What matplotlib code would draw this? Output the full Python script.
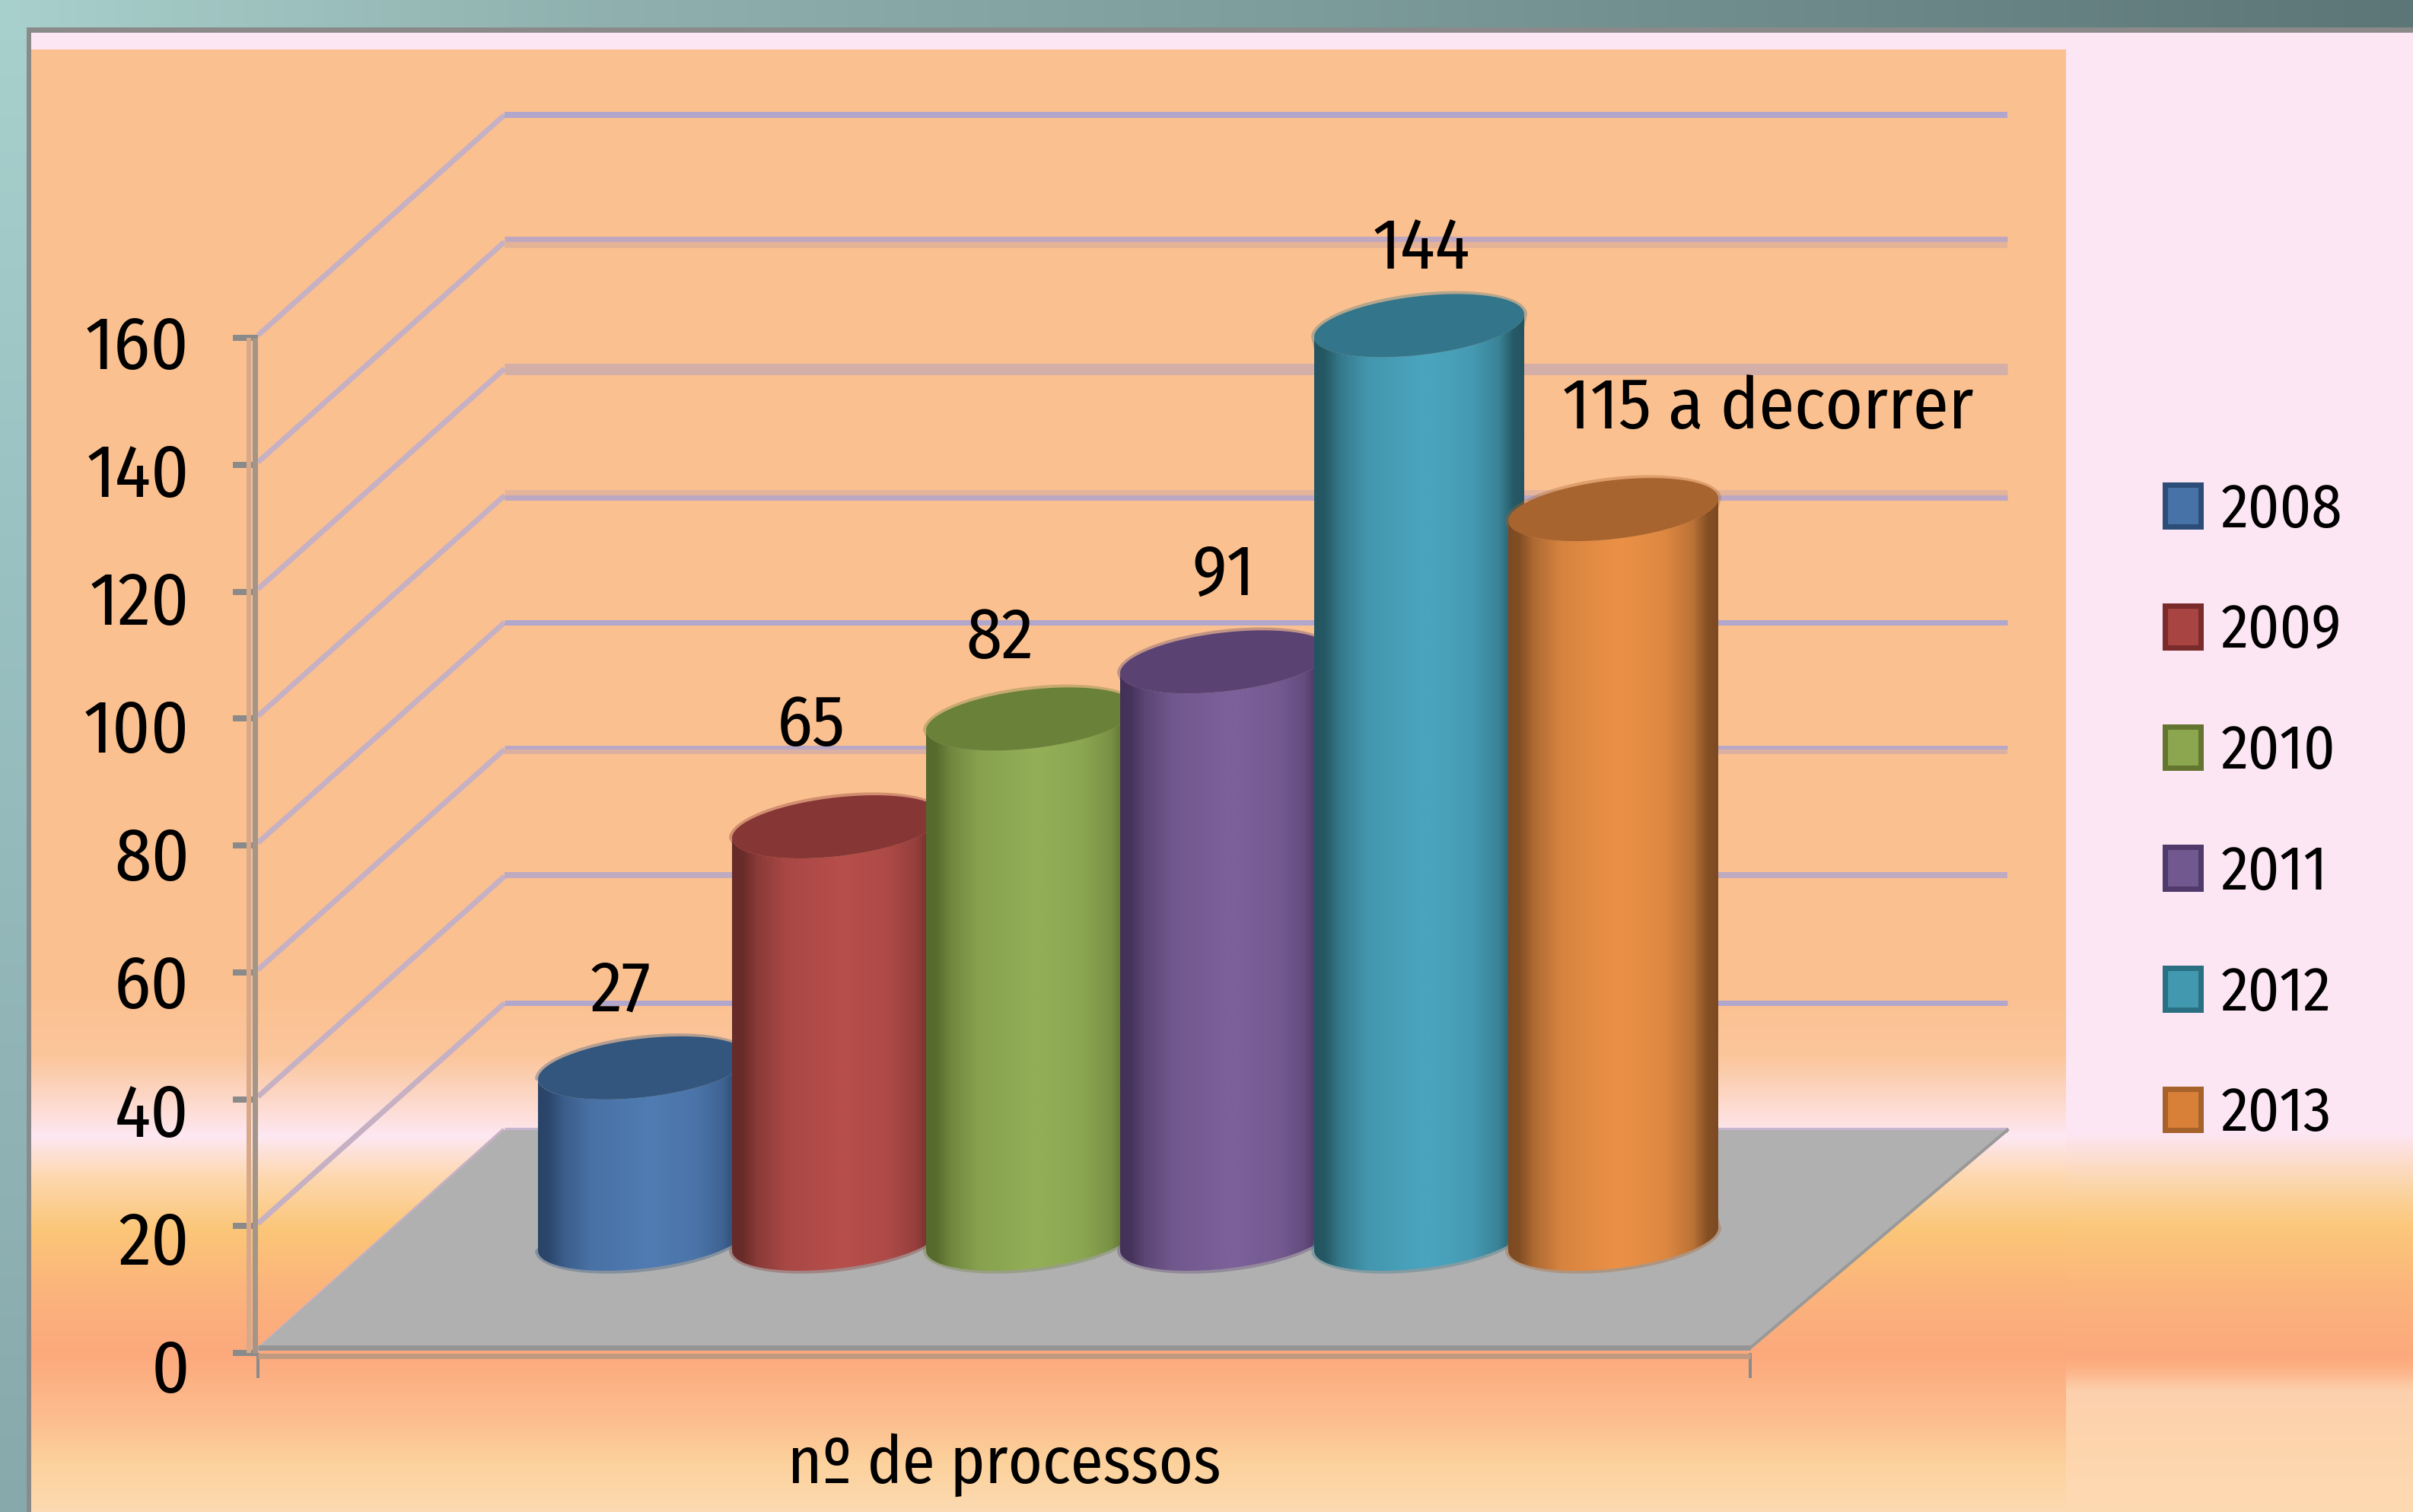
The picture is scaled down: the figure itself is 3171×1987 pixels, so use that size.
import numpy as np
import matplotlib
matplotlib.use('Agg')
import matplotlib.pyplot as plt
from matplotlib.colors import LinearSegmentedColormap, to_rgb
from matplotlib.patches import Patch, PathPatch, Polygon
from matplotlib.path import Path
from matplotlib.transforms import ScaledTranslation

plt.rcParams['font.family'] = ['Fira Sans Condensed', 'Lato', 'DejaVu Sans']

# data
years = ['2008', '2009', '2010', '2011', '2012', '2013']
values = [27, 65, 82, 91, 144, 115]
value_labels = ['27', '65', '82', '91', '144', '115 a decorrer']
y_ticks = [0, 20, 40, 60, 80, 100, 120, 140, 160]
axis_title = 'nº de processos'

# colours: light body, dark body, top face
light = ['#4f7bb2', '#b64e4b', '#92ae56', '#7b6099', '#4aa4be', '#ea9046']
dark = ['#2a4468', '#662a28', '#56692d', '#433159', '#235460', '#7c4a22']
top_face = ['#33567e', '#873636', '#6a8139', '#5a4273', '#33758a', '#a8642e']
leg_fill = ['#4672a8', '#a84442', '#8ba64e', '#71588f', '#4198af', '#d98038']
leg_edge = ['#2c4d78', '#7a2b2b', '#637530', '#4f3a6b', '#2b6f82', '#a6622b']

W, H = 3171, 1987
fig = plt.figure(figsize=(W / 100, H / 100), dpi=100)


def ramp(ys, stops):
    pos = [s[0] for s in stops]
    cols = np.array([to_rgb(s[1]) for s in stops])
    return np.stack([np.interp(ys, pos, cols[:, i]) for i in range(3)], axis=1)


# background picture
ys = np.arange(H)
panel_col = ramp(ys, [(0, '#fbc08f'), (1300, '#fbc08f'), (1388, '#fbc69c'), (1453, '#fddbd0'),
                      (1493, '#fde8f3'), (1545, '#fdd8b0'), (1615, '#fbc678'), (1694, '#fbb47c'),
                      (1778, '#fca97c'), (1870, '#fcbf90'), (1922, '#fcd29c'), (1987, '#fddab3')])
side_col = ramp(ys, [(0, '#fde6f3'), (1490, '#fde6f3'), (1512, '#fde0da'), (1568, '#fbd39e'),
                     (1613, '#fbc77a'), (1700, '#fbb47c'), (1782, '#fca97c'), (1797, '#fcb084'),
                     (1827, '#fcd0ac'), (1887, '#fdd4ac'), (1987, '#fddab3')])
bg = np.zeros((H, W, 3))
bg[:, :] = side_col[:, None, :]
bg[65:, 41:2715] = panel_col[65:, None, :]
bg[43:65, 41:] = to_rgb('#fde6f3')
left_band = ramp(ys, [(0, '#a8d0cc'), (600, '#9cc4c4'), (1987, '#88a9ac')])
bg[:, :35] = left_band[:, None, :]
bg[:, 35:41] = to_rgb('#8a8a8a')
top_band = ramp(np.arange(W), [(0, '#a8d0cc'), (800, '#8fb0ae'), (1700, '#7d9c9c'), (3171, '#5c7577')])
bg[:36, :] = top_band[None, :, :]
bg[36:43, 35:] = to_rgb('#8a8a8a')

ax_bg = fig.add_axes([0, 0, 1, 1], zorder=0)
ax_bg.imshow(bg, aspect='auto', interpolation='nearest')
ax_bg.axis('off')

# chart axes, front plane
left, right, top, bottom = 339, 2300, 444, 1778
ax = fig.add_axes([left / W, 1 - bottom / H, (right - left) / W, (bottom - top) / H], zorder=1)
ax.patch.set_alpha(0)

px_cat = 255.0  # px per category
px_val = (bottom - top) / 160.0  # px per unit
xmin = (left - 845) / px_cat
xmax = (right - 845) / px_cat
depth_x = 324 / px_cat
depth_x_r = 338 / px_cat
depth_y = 293 / px_val
back_l = xmin + depth_x
back_r = xmax + depth_x_r


def lw(px):
    return px * 72 / 100


# floor
ax.add_patch(Polygon([(xmin, 0.8), (back_l, depth_y), (back_r, depth_y), (xmax, 0.8)],
                     closed=True, fc='#b0b0b0', ec='none', zorder=2, clip_on=False))

# walls gridlines
line_style = {160: [(0, 8, '#b1a6cb')],
              140: [(4, 7, '#bfa8bf'), (-4, 8, '#e4b296')],
              120: [(0, 15, '#d3afa8')],
              100: [(4, 7, '#e4b49a'), (-3, 7, '#bda8c4')],
              80: [(0, 7, '#b1a6cb')],
              60: [(3, 5, '#b8a8c6'), (-3, 6, '#dcb0a0')],
              40: [(2, 8, '#c0aac0')],
              20: [(0, 7, '#b1a6cb')],
              0: [(0, 7, '#c5b5cd')]}
for v in y_ticks:
    vb = v + depth_y
    ax.plot([xmin, back_l], [v + 0.4, vb], color='#c6b0c4', lw=lw(7), clip_on=False, zorder=1.5,
            solid_capstyle='butt')
    for off, w, c in line_style[v]:
        ax.plot([back_l, back_r], [vb + off / px_val] * 2, color=c, lw=lw(w), clip_on=False, zorder=1.5,
                solid_capstyle='butt')

# right floor edge and front edge
ax.plot([xmax, back_r], [0.8, depth_y], color='#999999', lw=lw(4), clip_on=False, zorder=2.1)
ax.plot([xmin, xmax], [-0.45, -0.45], color='#c09a80', lw=lw(7), clip_on=False, zorder=2.1,
        solid_capstyle='butt')
ax.plot([xmin, xmax], [0.78, 0.78], color='#959595', lw=lw(7), clip_on=False, zorder=2.2,
        solid_capstyle='butt')

# left wall vertical axis
ax.plot([xmin - 4 / px_cat] * 2, [0, 160], color='#a39689', lw=lw(7), clip_on=False, zorder=2.3,
        solid_capstyle='butt')
ax.plot([xmin - 12 / px_cat] * 2, [0, 160], color='#d8a888', lw=lw(6), clip_on=False, zorder=2.3,
        solid_capstyle='butt')

# cylinders
a_px, b_px, shear = 138.0, 38.7, 0.108
base = (bottom - 1628.5) / px_val
t_low = np.linspace(np.pi, 2 * np.pi, 80)
t_all = np.linspace(0, 2 * np.pi, 160)


def ell(c, y0, t, grow=0.0):
    x = c + (a_px + grow) * np.cos(t) / px_cat
    y = y0 + ((b_px + grow) * np.sin(t) + shear * a_px * np.cos(t)) / px_val
    return x, y


shade_pos = [0, 0.05, 0.12, 0.25, 0.5, 0.56, 0.75, 0.88, 0.95, 1]
shade_mix = [0, 0.05, 0.45, 0.82, 1, 1, 0.88, 0.58, 0.08, 0]
for i, val in enumerate(values):
    z = 3 + i
    y_top = base + val
    bx, by = ell(i, base, t_low)
    tx, ty = ell(i, y_top, t_low)
    body = np.column_stack([np.r_[bx, tx[::-1]], np.r_[by, ty[::-1]]])

    # soft halo round the shape
    hx, hy = ell(i, base, t_low, 4)
    ux, uy = ell(i, y_top, t_low[::-1] - np.pi, 4)
    halo = np.column_stack([np.r_[hx, ux], np.r_[hy, uy]])
    ax.add_patch(Polygon(halo, closed=True, fc=top_face[i], ec='none', alpha=0.35, zorder=z - 0.1,
                         clip_on=False))

    l_rgb, d_rgb = np.array(to_rgb(light[i])), np.array(to_rgb(dark[i]))
    cmap = LinearSegmentedColormap.from_list('c%d' % i, [(p, tuple(d_rgb + m * (l_rgb - d_rgb)))
                                                         for p, m in zip(shade_pos, shade_mix)])
    im = ax.imshow(np.linspace(0, 1, 256)[None, :], cmap=cmap, aspect='auto', zorder=z,
                   extent=(i - a_px / px_cat, i + a_px / px_cat, by.min() - 1, ty.max() + 1))
    im.set_clip_path(PathPatch(Path(np.vstack([body, body[:1]])), transform=ax.transData))
    im.set_clip_box(fig.bbox)

    cx, cy = ell(i, y_top, t_all)
    ax.add_patch(Polygon(np.column_stack([cx, cy]), closed=True, fc=top_face[i], ec='none',
                         zorder=z + 0.1, clip_on=False))

# value labels, offset from the cylinder top in pixels
label_dx = [-30, -34, -41, -2, 3, 203]
label_dy = [100, 132, 105, 113, 100, 132]
for i, (val, txt) in enumerate(zip(values, value_labels)):
    ax.annotate(txt, (i, base + val), xytext=(label_dx[i], label_dy[i]), textcoords='offset pixels',
                ha='center', va='center', fontsize=68, color='black', zorder=20, annotation_clip=False)

# scales
ax.set_xlim(xmin, xmax)
ax.set_ylim(0, 160)
for s in ax.spines.values():
    s.set_visible(False)
ax.set_yticks(y_ticks)
ax.set_yticklabels([str(v) for v in y_ticks], fontsize=70)
ax.set_xticks([xmin, xmax])
ax.set_xticklabels(['', ''])
ax.tick_params(axis='y', length=lw(33), width=lw(8), color='#8a8a8a', pad=lw(57))
ax.tick_params(axis='x', length=lw(33), width=lw(4), color='#8a8a8a')
for v, lab in zip(y_ticks, ax.get_yticklabels()):
    shift = (4 + (160 - v) * 11 / 160) * 0.72 / 72
    lab.set_transform(lab.get_transform() + ScaledTranslation(0, -shift, fig.dpi_scale_trans))
ax.set_xlabel(axis_title, fontsize=62)
ax.xaxis.set_label_coords(0.5, -0.110)
ax.xaxis.label.set_va('center')

# legend
handles = [Patch(fc=leg_fill[i], ec=leg_edge[i], lw=lw(7), label=years[i]) for i in range(len(years))]
fig.legend(handles=handles, loc='upper left', bbox_to_anchor=(2845 / W, 1 - 632 / H), frameon=False,
           fontsize=58, handlelength=0.584, handleheight=0.67, handletextpad=0.33, labelspacing=1.0,
           borderpad=0, borderaxespad=0)

fig.savefig('out.png', dpi=100)
